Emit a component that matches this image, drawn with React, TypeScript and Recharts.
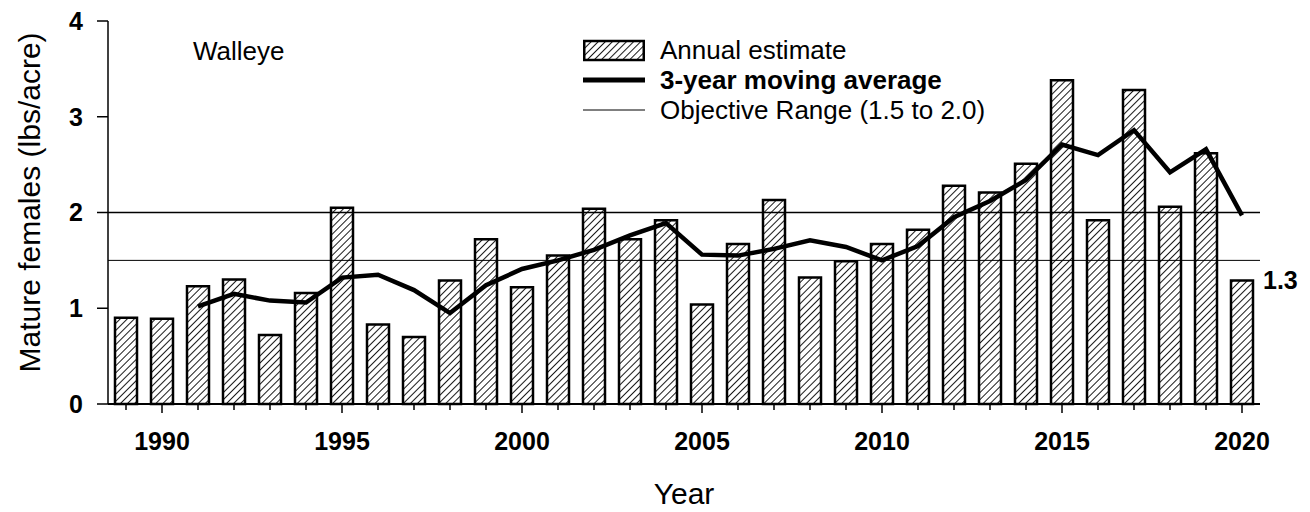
import {
  ComposedChart, Bar, Line, XAxis, YAxis, ReferenceLine, Legend,
} from 'recharts';

const FONT = '"Liberation Sans", Arial, sans-serif';

// categories
const years = [
  1989, 1990, 1991, 1992, 1993, 1994, 1995, 1996, 1997, 1998, 1999,
  2000, 2001, 2002, 2003, 2004, 2005, 2006, 2007, 2008, 2009,
  2010, 2011, 2012, 2013, 2014, 2015, 2016, 2017, 2018, 2019, 2020,
];

// annual estimate (lbs/acre)
const annual = [
  0.90, 0.89, 1.23, 1.30, 0.72, 1.16, 2.05, 0.83, 0.70, 1.29, 1.72,
  1.22, 1.55, 2.04, 1.72, 1.92, 1.04, 1.67, 2.13, 1.32, 1.49,
  1.67, 1.82, 2.28, 2.21, 2.51, 3.38, 1.92, 3.28, 2.06, 2.62, 1.29,
];

// 3-year moving average
const movingAvg = [
  null, null, 1.02, 1.15, 1.08, 1.06, 1.32, 1.35, 1.19, 0.95, 1.24,
  1.41, 1.50, 1.61, 1.76, 1.89, 1.56, 1.55, 1.62, 1.71, 1.64,
  1.50, 1.65, 1.95, 2.12, 2.34, 2.71, 2.60, 2.86, 2.42, 2.66, 1.97,
];

const yTicks = [0, 1, 2, 3, 4];
const objectiveLow = 1.5;
const objectiveHigh = 2.0;

const data = years.map((year, i) => ({ year, annual: annual[i], avg: movingAvg[i] }));

function XTick({ x, y, payload }: any) {
  const major = payload.value % 5 === 0;
  return (
    <g>
      <line x1={x} x2={x} y1={y} y2={y + (major ? 9 : 6)} stroke="#000" strokeWidth={1.5} />
      {major && (
        <text x={x} y={y + 46} textAnchor="middle" fontSize={25} fontWeight="bold" fill="#000" fontFamily={FONT}>
          {payload.value}
        </text>
      )}
    </g>
  );
}

function LastLabel(props: any) {
  const { x, y, width, value, index } = props;
  if (index !== annual.length - 1) return null;
  return (
    <text x={x + width + 10} y={y} dy="0.35em" fontSize={25} fontWeight="bold" fill="#000" fontFamily={FONT}>
      {Number(value).toFixed(1)}
    </text>
  );
}

function LegendBox() {
  const row = { display: 'flex', alignItems: 'center', height: 30 } as const;
  const txt = { marginLeft: 15, fontSize: 26, color: '#000', fontFamily: FONT, whiteSpace: 'nowrap' } as const;
  return (
    <div>
      <div style={row}>
        <svg width={62} height={30}>
          <defs>
            <pattern id="hatchLegend" patternUnits="userSpaceOnUse" width={5} height={5} patternTransform="rotate(45)">
              <line x1={0} y1={0} x2={0} y2={5} stroke="#000" strokeWidth={1.8} />
            </pattern>
          </defs>
          <rect x={1.25} y={6} width={59.5} height={19} fill="url(#hatchLegend)" stroke="#000" strokeWidth={2.5} />
        </svg>
        <span style={txt}>Annual estimate</span>
      </div>
      <div style={row}>
        <svg width={62} height={30}>
          <line x1={0} x2={62} y1={15} y2={15} stroke="#000" strokeWidth={5} />
        </svg>
        <span style={{ ...txt, fontWeight: 'bold' }}>3-year moving average</span>
      </div>
      <div style={row}>
        <svg width={62} height={30}>
          <line x1={0} x2={62} y1={15} y2={15} stroke="#000" strokeWidth={1} />
        </svg>
        <span style={txt}>Objective Range (1.5 to 2.0)</span>
      </div>
    </div>
  );
}

export default function App() {
  return (
    <div style={{ position: 'absolute', left: 0, top: 0, width: 1310, height: 512, background: '#fff' }}>
      <ComposedChart
        width={1310}
        height={512}
        data={data}
        margin={{ top: 21, right: 50, bottom: 78, left: 0 }}
        style={{ fontFamily: FONT }}
      >
        <defs>
          <pattern id="hatch" patternUnits="userSpaceOnUse" width={5} height={5} patternTransform="rotate(45)">
            <line x1={0} y1={0} x2={0} y2={5} stroke="#000" strokeWidth={1.8} />
          </pattern>
        </defs>
        <XAxis
          dataKey="year"
          type="category"
          interval={0}
          height={30}
          tickSize={0}
          tickMargin={0}
          tickLine={false}
          tick={<XTick />}
          axisLine={{ stroke: '#000', strokeWidth: 2 }}
          label={{
            content: ({ viewBox }: any) => (
              <text x={viewBox.x + viewBox.width / 2} y={viewBox.y + 100} textAnchor="middle" fontSize={30} fill="#000" fontFamily={FONT}>
                Year
              </text>
            ),
          }}
        />
        <YAxis
          domain={[0, 4]}
          ticks={yTicks}
          interval={0}
          width={108}
          tickSize={11}
          tickMargin={14}
          tick={{ fontSize: 25, fontWeight: 'bold', fill: '#000', fontFamily: FONT }}
          tickLine={{ stroke: '#000', strokeWidth: 1.5 }}
          axisLine={{ stroke: '#000', strokeWidth: 1.5 }}
          label={{
            content: ({ viewBox }: any) => (
              <text
                transform={`translate(${viewBox.x + 29},${viewBox.y + viewBox.height / 2 - 10}) rotate(-90)`}
                textAnchor="middle"
                dominantBaseline="central"
                fontSize={30}
                fill="#000"
                fontFamily={FONT}
              >
                Mature females (lbs/acre)
              </text>
            ),
          }}
        />
        <Bar
          dataKey="annual"
          barSize={22}
          fill="url(#hatch)"
          stroke="#000"
          strokeWidth={2.5}
          isAnimationActive={false}
          label={<LastLabel />}
        />
        <ReferenceLine y={objectiveHigh} stroke="#000" strokeWidth={1.5} />
        <ReferenceLine y={objectiveLow} stroke="#000" strokeWidth={1} />
        <Line
          dataKey="avg"
          type="linear"
          stroke="#000"
          strokeWidth={4.5}
          dot={false}
          activeDot={false}
          connectNulls={false}
          isAnimationActive={false}
        />
        <Legend
          layout="vertical"
          align="center"
          verticalAlign="middle"
          wrapperStyle={{ left: 583, top: 35, width: 500 }}
          content={() => <LegendBox />}
        />
        <text x={193} y={60} fontSize={26} fill="#000" fontFamily={FONT}>Walleye</text>
      </ComposedChart>
    </div>
  );
}
